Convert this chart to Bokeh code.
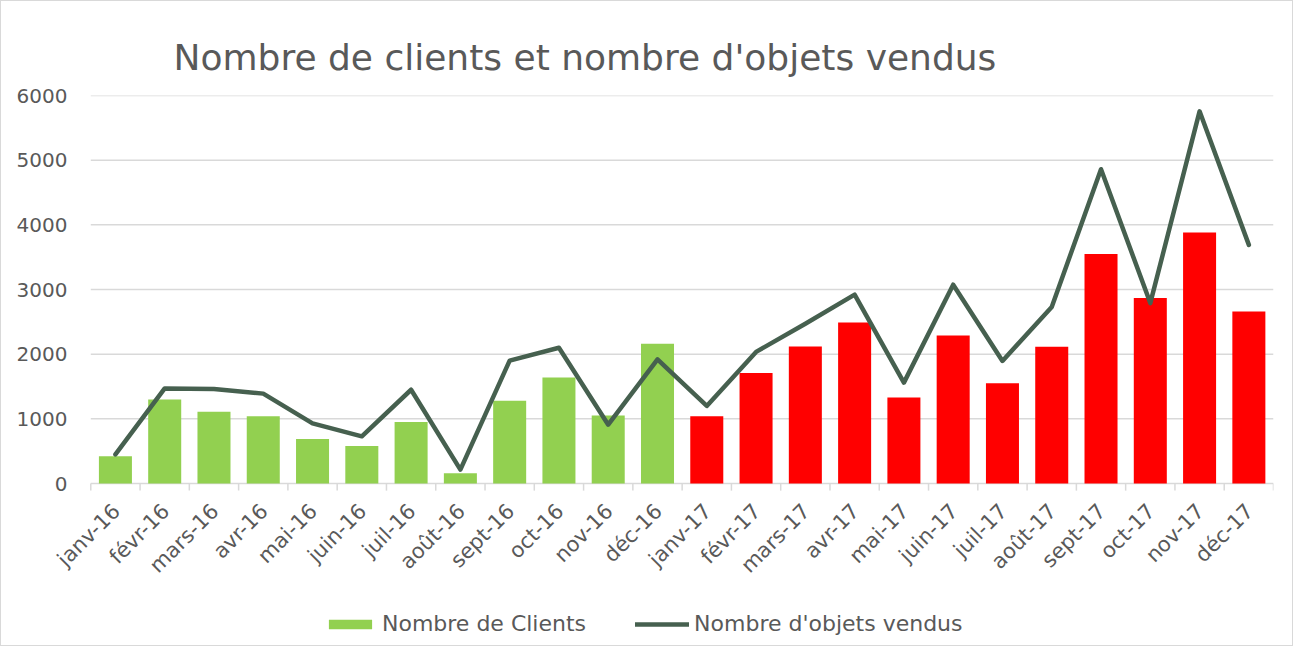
from math import pi
from bokeh.plotting import figure
from bokeh.models import (Range1d, FixedTicker, Legend, LegendItem,
                          ColumnDataSource, FactorRange)
from bokeh.core.properties import value
from bokeh.transform import dodge
from bokeh.embed import file_html
from bokeh.resources import INLINE

months = ["janv-16", "févr-16", "mars-16", "avr-16", "mai-16", "juin-16",
          "juil-16", "août-16", "sept-16", "oct-16", "nov-16", "déc-16",
          "janv-17", "févr-17", "mars-17", "avr-17", "mai-17", "juin-17",
          "juil-17", "août-17", "sept-17", "oct-17", "nov-17", "déc-17"]
clients = [420, 1300, 1110, 1040, 690, 580, 950, 160, 1280, 1640, 1050, 2160,
           1040, 1710, 2120, 2490, 1330, 2290, 1550, 2115, 3550, 2870, 3880, 2660]
objets = [450, 1470, 1460, 1390, 930, 730, 1450, 215, 1900, 2100, 910, 1920,
          1200, 2035, 2470, 2920, 1560, 3075, 1895, 2730, 4860, 2790, 5755, 3690]
y_ticks = [0, 1000, 2000, 3000, 4000, 5000, 6000]

TXT = "#595959"
GRID = "#d9d9d9"
FONT = "DejaVu Sans"
TICK_LEN = 110      # tick-mark length below the axis, in y units (~7px)
Y_BOTTOM = -2474    # room under the axis for category labels and legend
PAD = " "           # empty leading slot so the first rotated label is not clipped

p = figure(x_range=FactorRange(factors=[PAD] + months),
           y_range=Range1d(Y_BOTTOM, 6000), width=1293, height=646,
           output_backend="svg", toolbar_location=None, x_axis_location=None,
           min_border_left=40, min_border_right=21, min_border_top=94,
           min_border_bottom=4)
p.outline_line_color = None
p.background_fill_color = "white"
p.border_fill_color = "white"
p.styles = {"border": "1px solid #d9d9d9"}
p.grid.visible = False

p.title.text = "Nombre de clients et nombre d'objets vendus"
p.title.text_font = FONT
p.title.text_font_size = "36px"
p.title.text_font_style = "normal"
p.title.text_color = TXT
p.title.align = "left"
p.title.offset = 132
p.title.standoff = 36

# y axis (labels only)
p.yaxis.ticker = FixedTicker(ticks=y_ticks)
p.yaxis.axis_line_color = None
p.yaxis.major_tick_line_color = None
p.yaxis.minor_tick_line_color = None
p.yaxis.major_tick_in = 0
p.yaxis.major_tick_out = 0
p.yaxis.major_label_standoff = -26
p.yaxis.major_label_text_font = FONT
p.yaxis.major_label_text_font_size = "20px"
p.yaxis.major_label_text_color = TXT

# horizontal gridlines spanning the categories
gsrc = ColumnDataSource(dict(y=y_ticks, first=[months[0]] * len(y_ticks),
                             last=[months[-1]] * len(y_ticks)))
p.segment(x0=dodge("first", -0.5, range=p.x_range), y0="y",
          x1=dodge("last", 0.5, range=p.x_range), y1="y",
          source=gsrc, line_color=GRID, line_width=1.5)

# bars
src16 = ColumnDataSource(dict(m=months[:12], c=clients[:12]))
src17 = ColumnDataSource(dict(m=months[12:], c=clients[12:]))
b16 = p.vbar(x="m", top="c", width=0.67, source=src16,
             fill_color="#92D050", line_color=None)
b17 = p.vbar(x="m", top="c", width=0.67, source=src17,
             fill_color="#FF0000", line_color=None)

# tick marks at category boundaries
tsrc = ColumnDataSource(dict(m=months, z=[0] * len(months), b=[-TICK_LEN] * len(months)))
p.segment(x0=dodge("m", -0.5, range=p.x_range), y0="z",
          x1=dodge("m", -0.5, range=p.x_range), y1="b",
          source=tsrc, line_color=GRID, line_width=1.5)
tend = ColumnDataSource(dict(m=months[-1:], z=[0], b=[-TICK_LEN]))
p.segment(x0=dodge("m", 0.5, range=p.x_range), y0="z",
          x1=dodge("m", 0.5, range=p.x_range), y1="b",
          source=tend, line_color=GRID, line_width=1.5)

# category labels, rotated 45 degrees
p.text(x="m", y="z", text="m", source=tsrc, angle=pi / 4,
       text_align="right", text_baseline="middle", x_offset=1, y_offset=24,
       text_font=value(FONT), text_font_size="21px", text_color=TXT)

ln = p.line(months, objets, line_color="#46604F", line_width=4.5,
            line_join="round", line_cap="round")

legend = Legend(items=[LegendItem(label="Nombre de Clients", renderers=[b16]),
                       LegendItem(label="Nombre d'objets vendus", renderers=[ln])],
                orientation="horizontal", location=(282, 7),
                glyph_width=54, glyph_height=12, label_standoff=5,
                spacing=49, padding=0, margin=0,
                label_text_font=FONT, label_text_font_size="22px",
                label_text_color=TXT, border_line_color=None,
                background_fill_alpha=0)
p.add_layout(legend, "center")

open("out.html", "w").write(file_html(p, INLINE))
